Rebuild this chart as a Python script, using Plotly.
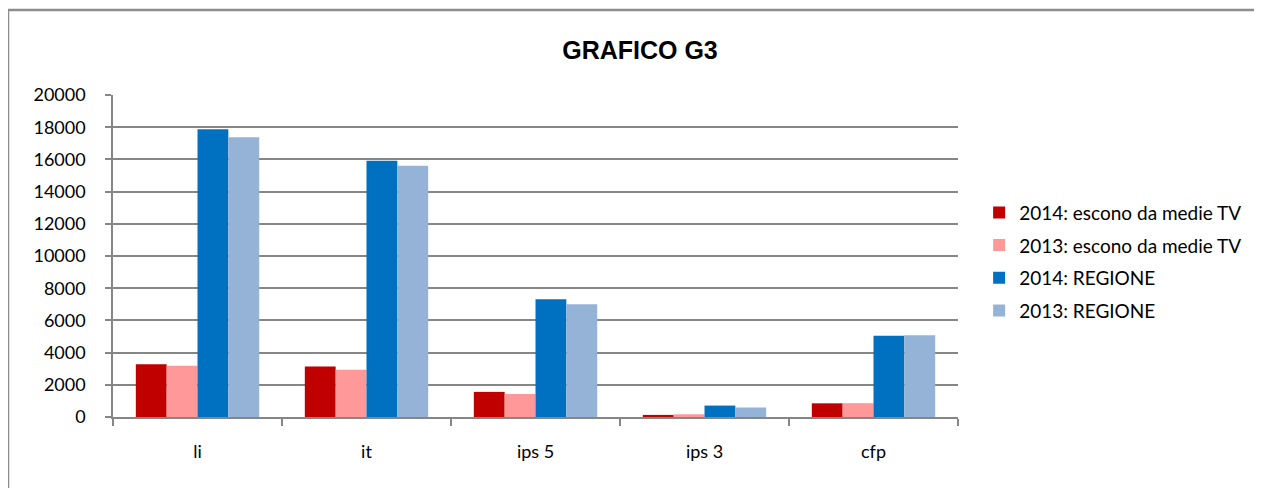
import plotly.graph_objects as go

categorie = ["li", "it", "ips 5", "ips 3", "cfp"]
tv_2014 = [3280, 3130, 1560, 130, 850]
tv_2013 = [3180, 2930, 1430, 170, 860]
regione_2014 = [17870, 15920, 7320, 710, 5040]
regione_2013 = [17380, 15610, 7010, 590, 5070]

serie = [
    ("2014: escono da medie TV", tv_2014, "#C00000"),
    ("2013: escono da medie TV", tv_2013, "#FF9999"),
    ("2014: REGIONE", regione_2014, "#0070C0"),
    ("2013: REGIONE", regione_2013, "#95B3D7"),
]

fig = go.Figure()
for nome, valori, colore in serie:
    fig.add_trace(go.Bar(x=categorie, y=valori, name=nome, legendgroup=nome,
                         marker=dict(color=colore, line=dict(width=0))))

font_base = dict(family="Lato, 'Open Sans', sans-serif", size=18, color="#000000")

# la pagina ha 8px di margine: i margini compensano
fig.update_layout(
    width=1262, height=488,
    paper_bgcolor="white", plot_bgcolor="white",
    margin=dict(l=105, r=312, t=87, b=79),
    font=font_base,
    barmode="group", bargap=0.27, bargroupgap=0,
    title=dict(text="<b>GRAFICO G3</b>", x=(632 / 1262), xanchor="center",
               y=1 - 42 / 488, yanchor="middle",
               font=dict(family="Liberation Sans, Arial", size=25, color="#000000")),
    showlegend=True,
    legend=dict(x=1.025, xanchor="left", y=0.694, yanchor="top",
                tracegroupgap=5, itemwidth=30,
                font=dict(size=19), bgcolor="rgba(0,0,0,0)"),
    xaxis=dict(showline=True, linecolor="#868686", linewidth=1.5,
               ticks="outside", tickson="boundaries", ticklen=7,
               tickcolor="#868686", tickwidth=1.5, showgrid=False,
               tickfont=dict(size=18), ticklabelstandoff=18),
    yaxis=dict(range=[0, 20000], dtick=2000, tickformat="d", showline=True,
               linecolor="#868686", linewidth=1.5, ticks="outside", ticklen=6,
               tickcolor="#868686", tickwidth=1.5, showgrid=True,
               gridcolor="#868686", gridwidth=1.5, zeroline=False,
               tickfont=dict(size=18), ticklabelstandoff=16),
)

# cornice del grafico
fig.add_shape(type="rect", xref="paper", yref="paper",
              x0=(0 - 105) / 845, x1=(1254 - 105) / 845,
              y0=-0.4, y1=(409 - 2) / 322,
              line=dict(color="#8C8C8C", width=2.5), fillcolor="rgba(0,0,0,0)")

fig.write_html("out.html")
